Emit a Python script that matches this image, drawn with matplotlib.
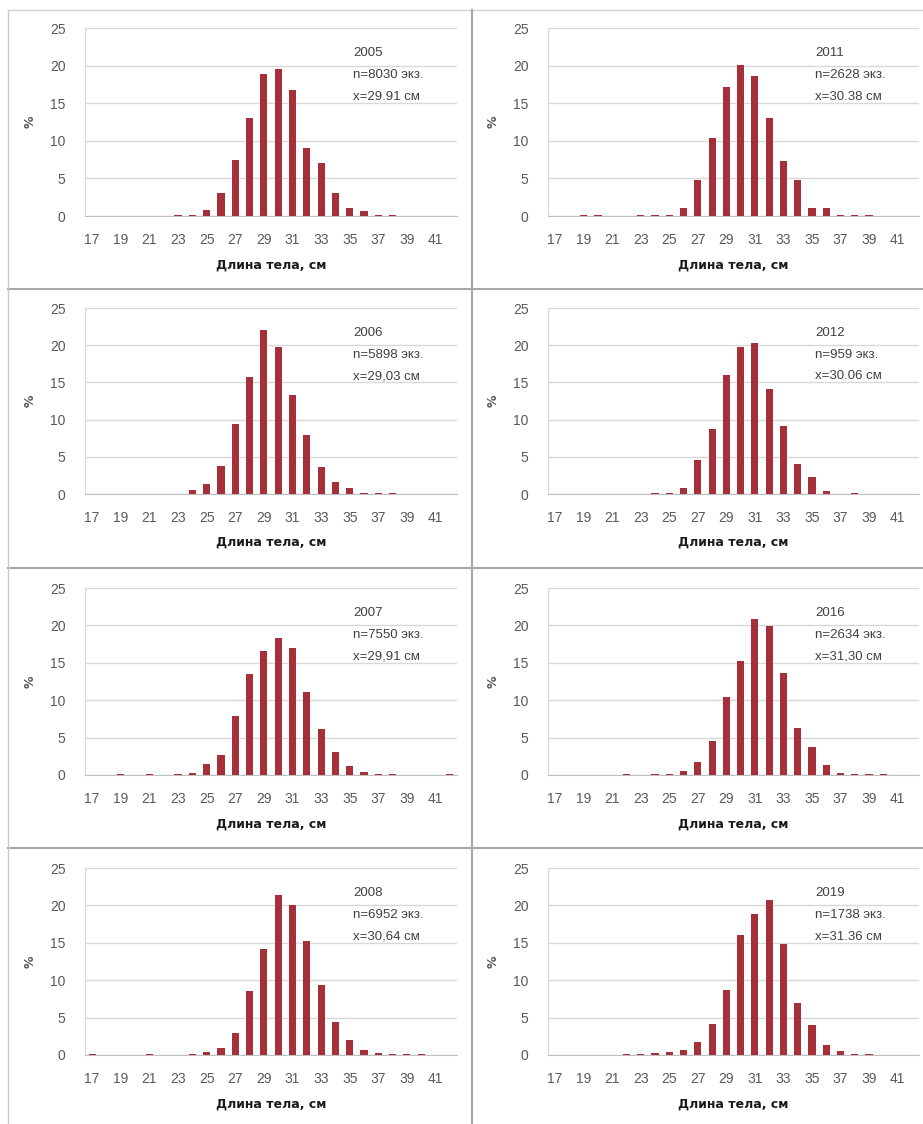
import matplotlib.pyplot as plt
from matplotlib.lines import Line2D

W, H = 923, 1124

lengths = list(range(17, 43))
tick_labels = [str(v) for v in range(17, 42, 2)]

# percentages per 1 cm length class, 17..42 cm
y2005 = [0, 0, 0, 0, 0, 0, 0.1, 0.1, 0.8, 3.0, 7.5, 13.0, 18.9, 19.6, 16.8, 9.1,
         7.0, 3.0, 1.0, 0.6, 0.1, 0.1, 0, 0, 0, 0]
y2011 = [0, 0, 0.1, 0.1, 0, 0, 0.1, 0.1, 0.1, 1.0, 4.8, 10.4, 17.1, 20.1, 18.6, 13.0,
         7.3, 4.8, 1.0, 1.1, 0.1, 0.1, 0.1, 0, 0, 0]
y2006 = [0, 0, 0, 0, 0, 0, 0.05, 0.5, 1.3, 3.7, 9.4, 15.7, 22.0, 19.8, 13.3, 7.9,
         3.6, 1.6, 0.8, 0.2, 0.1, 0.1, 0, 0, 0, 0]
y2012 = [0, 0, 0, 0, 0, 0, 0, 0.1, 0.1, 0.8, 4.6, 8.8, 16.0, 19.7, 20.3, 14.1,
         9.2, 4.0, 2.3, 0.4, 0, 0.2, 0, 0, 0, 0]
y2007 = [0, 0, 0.2, 0, 0.1, 0, 0.1, 0.3, 1.5, 2.7, 7.9, 13.5, 16.6, 18.3, 17.0, 11.1,
         6.1, 3.1, 1.2, 0.4, 0.1, 0.2, 0, 0, 0, 0.1]
y2016 = [0, 0, 0, 0, 0, 0.1, 0, 0.1, 0.2, 0.5, 1.8, 4.6, 10.4, 15.2, 20.9, 19.9,
         13.6, 6.3, 3.8, 1.4, 0.3, 0.2, 0.1, 0.1, 0, 0]
y2008 = [0.1, 0, 0, 0, 0.1, 0, 0, 0.1, 0.4, 1.0, 3.0, 8.6, 14.2, 21.4, 20.0, 15.3,
         9.4, 4.4, 2.0, 0.7, 0.3, 0.1, 0.1, 0.1, 0, 0]
y2019 = [0, 0, 0, 0, 0, 0.1, 0.1, 0.3, 0.4, 0.7, 1.7, 4.1, 8.7, 16.1, 18.9, 20.7,
         14.8, 6.9, 4.0, 1.3, 0.5, 0.1, 0.1, 0, 0, 0]

years = ['2005', '2011', '2006', '2012', '2007', '2016', '2008', '2019']
counts = ['n=8030 экз.', 'n=2628 экз.', 'n=5898 экз.', 'n=959 экз.',
          'n=7550 экз.', 'n=2634 экз.', 'n=6952 экз.', 'n=1738 экз.']
means = ['x=29.91 см', 'x=30.38 см', 'x=29,03 см', 'x=30.06 см',
         'x=29,91 см', 'x=31,30 см', 'x=30,64 см', 'x=31.36 см']
series = [y2005, y2011, y2006, y2012, y2007, y2016, y2008, y2019]

# pixel boxes of plot areas: (left, right, top(25), bottom(0))
cols = [(85, 457), (548, 919)]
rows = [(28, 216), (308, 494), (588, 775), (868, 1055)]

bar_color = '#a5303a'
tick_color = '#595959'

fig = plt.figure(figsize=(W / 100, H / 100), dpi=100)

for i, vals in enumerate(series):
    r, c = divmod(i, 2)
    l, rr = cols[c]
    t, b = rows[r]
    ax = fig.add_axes([l / W, 1 - b / H, (rr - l) / W, (b - t) / H])
    ax.bar(lengths, vals, width=0.5, color=bar_color, zorder=3)
    ax.set_xlim(16.5, 42.5)
    ax.set_ylim(0, 25)
    ax.set_yticks([0, 5, 10, 15, 20, 25])
    ax.set_xticks(range(17, 42, 2))
    ax.set_xticklabels(tick_labels)
    ax.grid(axis='y', color='#d9d9d9', lw=1, zorder=0)
    ax.tick_params(length=0, labelsize=10, labelcolor=tick_color)
    ax.tick_params(axis='x', pad=12)
    ax.tick_params(axis='y', pad=14)
    for s in ['top', 'right']:
        ax.spines[s].set_visible(False)
    ax.spines['left'].set_color('#d9d9d9')
    ax.spines['bottom'].set_color('#bfbfbf')
    for lab in ax.get_xticklabels() + ax.get_yticklabels():
        lab.set_fontfamily('Liberation Sans')
    ax.set_xlabel('Длина тела, см', fontsize=9, fontweight='bold',
                  family='DejaVu Sans', color='#1a1a1a')
    ax.xaxis.set_label_coords(0.5, -0.225)
    ax.set_ylabel('%', fontsize=9, fontweight='bold', color='#595959')
    ax.yaxis.set_label_coords(-0.13, 0.5)
    for k, txt in enumerate([years[i], counts[i], means[i]]):
        ax.text(0.72, 0.867 - 0.117 * k, txt, transform=ax.transAxes,
                fontsize=9.5, color='#404040', va='center', ha='left',
                family='Liberation Sans')

# panel frames
frame = '#a6a6a6'
def hline(y, x0, x1, color=frame, lw=1.5):
    fig.add_artist(Line2D([x0 / W, x1 / W], [1 - y / H, 1 - y / H],
                          transform=fig.transFigure, color=color, lw=lw))

def vline(x, y0, y1, color=frame, lw=1.5):
    fig.add_artist(Line2D([x / W, x / W], [1 - y0 / H, 1 - y1 / H],
                          transform=fig.transFigure, color=color, lw=lw))

hline(10, 8, 923, color='#d0d0d0', lw=1)
for y in [289, 568, 848]:
    hline(y, 8, 923)
vline(8, 10, 1124, color='#c8c8c8', lw=1)
vline(472, 10, 1124)

fig.savefig('out.png', dpi=100)
